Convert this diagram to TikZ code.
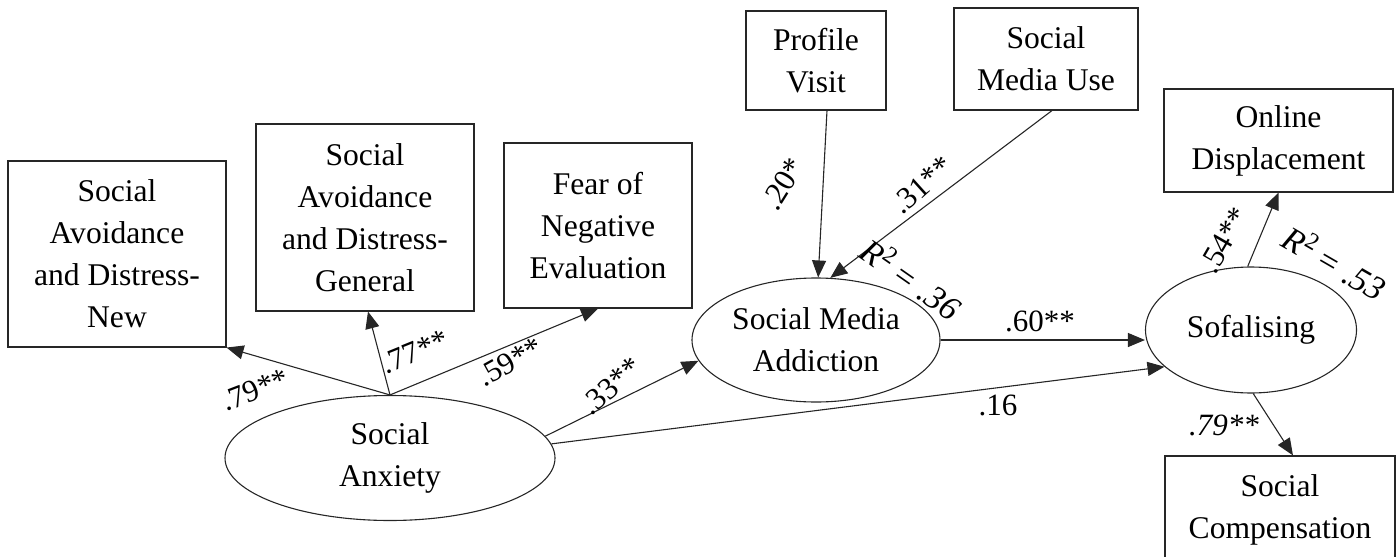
\documentclass[tikz,border=0pt]{standalone}
\usepackage{fontspec}
\setmainfont{Liberation Serif}
\usetikzlibrary{arrows.meta,shapes.geometric,calc}
\begin{document}
\begin{tikzpicture}[x=0.5pt,y=-0.5pt,
  box/.style={draw=black!85,line width=0.55pt,rectangle,inner sep=0pt,align=center,font=\fontsize{15.8}{21}\selectfont},
  lat/.style={draw=black!85,line width=0.55pt,ellipse,inner sep=0pt,align=center,font=\fontsize{15.8}{21}\selectfont},
  pth/.style={draw=black!85,line width=0.55pt,-{Triangle[length=8.5pt,width=7pt]}},
  coef/.style={font=\fontsize{15.5}{18}\selectfont,inner sep=0pt},
  rsq/.style={font=\fontsize{17}{20}\selectfont,inner sep=0pt}]
\clip (0,0) rectangle (1398,557);
% observed indicators
\node[box,minimum width=109pt,minimum height=93pt] (b1) at (117,254) {Social\\Avoidance\\and Distress-\\New};
\node[box,minimum width=109pt,minimum height=93.5pt] (b2) at (365,217.5) {Social\\Avoidance\\and Distress-\\General};
\node[box,minimum width=94pt,minimum height=82.5pt] (b3) at (598,225.5) {Fear of\\Negative\\Evaluation};
\node[box,minimum width=70pt,minimum height=49.5pt] (pv) at (816,60.5) {Profile\\Visit};
\node[box,minimum width=92pt,minimum height=51pt] (smu) at (1046,59) {Social\\Media Use};
\node[box,minimum width=114.5pt,minimum height=51.5pt] (od) at (1278.5,140.5) {Online\\Displacement};
\node[box,minimum width=115pt,minimum height=54pt] (sc) at (1280,510) {Social\\Compensation};
% latent variables
\node[lat,minimum width=165pt,minimum height=62.5pt] (sa) at (390,458) {Social\\Anxiety};
\node[lat,minimum width=124pt,minimum height=62pt] (sma) at (816,340) {Social Media\\Addiction};
\node[lat,minimum width=105.5pt,minimum height=63pt] (sof) at (1251,330) {Sofalising};
% paths
\draw[pth] (sa.north) -- (b1.south east);
\draw[pth] (sa.north) -- ($(b2.south)+(3,0)$);
\draw[pth] (sa.north) -- (b3.south);
\draw[pth] (sa.8) -- (sma.190);
\draw[pth] (sa.5) -- (sof.203);
\draw[pth] ($(pv.south)+(11,0)$) -- (sma.88);
\draw[pth] ($(smu.south)+(6,0)$) -- (sma.77);
\draw[pth] (sma.east) -- (sof.west |- sma.east);
\draw[pth] (sof.93) -- (od.south);
\draw[pth] (sof.272) -- ($(sc.north)+(13,0)$);
% coefficients
\node[coef,rotate=21] (c1) at (255,390) {.79**};
\node[coef,rotate=22] (c2) at (415,352) {.77**};
\node[coef,rotate=29] (c3) at (510,362) {.59**};
\node[coef,rotate=42] (c4) at (611,386) {.33**};
\node[coef,rotate=58] (c5) at (783,184) {.20*};
\node[coef,rotate=42] (c6) at (922,185) {.31**};
\node[rsq,rotate=-35] (r1) at (912,278) {\textit{R}\textsuperscript{2}\,\textit{= .36}};
\node[coef] (c7) at (1040,321) {.60**};
\node[coef] (c8) at (998,405) {.16};
\node[coef,rotate=60] (c9) at (1224,240) {.54**};
\node[rsq,rotate=-30] (r2) at (1335,262) {\textit{R}\textsuperscript{2}\,\textit{= .53}};
\node[coef] (c10) at (1224,425) {\textit{.79**}};
\end{tikzpicture}
\end{document}
